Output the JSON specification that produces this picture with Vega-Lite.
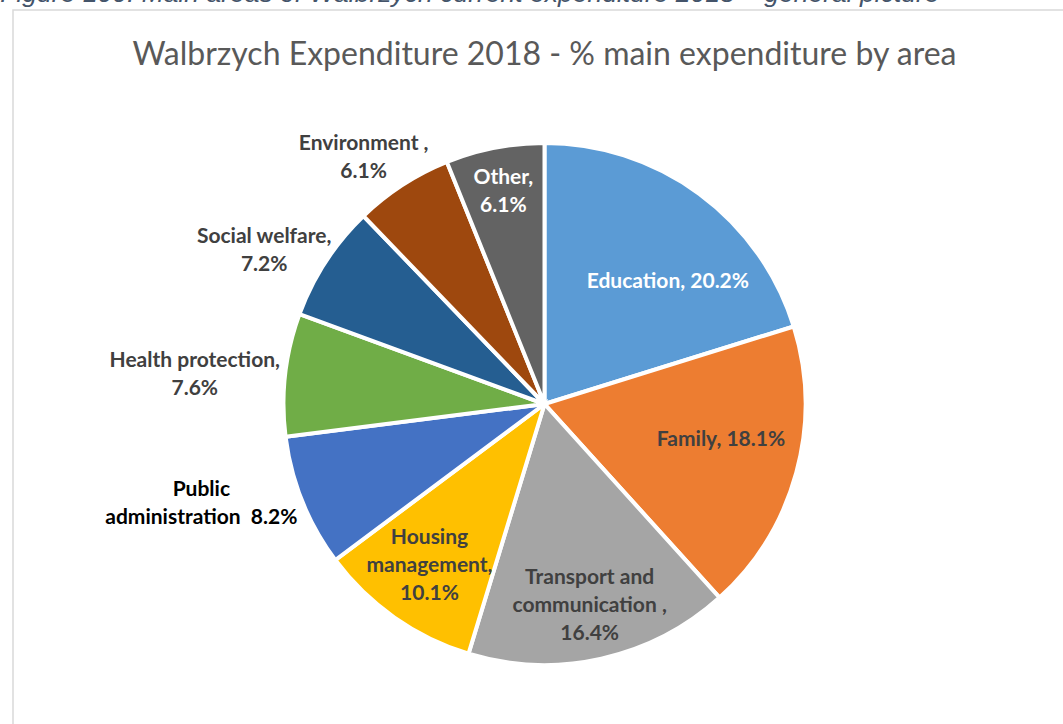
{
  "$schema": "https://vega.github.io/schema/vega-lite/v6.json",
  "padding": {"top": -19, "left": 0, "right": 0, "bottom": 0},
  "background": "white",
  "title": {
    "text": "Figure 100: Main areas of Walbrzych current expenditure 2018 – general picture",
    "anchor": "start",
    "font": "Liberation Sans",
    "fontStyle": "italic",
    "fontWeight": "normal",
    "fontSize": 26.5,
    "color": "#44546A",
    "baseline": "alphabetic",
    "offset": -33,
    "dx": -12
  },
  "data": {
    "values": [
      {"category": "Education", "value": 20.2, "order": 1, "label": "Education, 20.2%"},
      {"category": "Family", "value": 18.1, "order": 2, "label": "Family, 18.1%"},
      {"category": "Transport and communication", "value": 16.4, "order": 3, "label": "Transport and\ncommunication ,\n16.4%"},
      {"category": "Housing management", "value": 10.1, "order": 4, "label": "Housing\nmanagement,\n10.1%"},
      {"category": "Public administration", "value": 8.2, "order": 5, "label": "Public\nadministration \u00a08.2%"},
      {"category": "Health protection", "value": 7.6, "order": 6, "label": "Health protection,\n7.6%"},
      {"category": "Social welfare", "value": 7.2, "order": 7, "label": "Social welfare,\n7.2%"},
      {"category": "Environment", "value": 6.1, "order": 8, "label": "Environment ,\n6.1%"},
      {"category": "Other", "value": 6.1, "order": 9, "label": "Other,\n6.1%"}
    ]
  },
  "vconcat": [
    {
      "width": 1063,
      "height": 788,
      "view": {"stroke": "#d9d9d9", "strokeWidth": 1.5, "fill": "white"},
      "title": {
        "text": "Walbrzych Expenditure 2018 - % main expenditure by area",
        "anchor": "middle",
        "font": "Lato",
        "fontWeight": "normal",
        "fontSize": 32,
        "color": "#595959",
        "baseline": "alphabetic",
        "offset": -100
      },
      "encoding": {
        "theta": {"field": "value", "type": "quantitative", "stack": true},
        "order": {"field": "order", "type": "quantitative"}
      },
      "layer": [
        {
          "mark": {"type": "arc", "outerRadius": 261, "stroke": "white", "strokeWidth": 4},
          "encoding": {
            "color": {
              "field": "category",
              "type": "nominal",
              "legend": null,
              "scale": {
                "domain": ["Education", "Family", "Transport and communication", "Housing management", "Public administration", "Health protection", "Social welfare", "Environment", "Other"],
                "range": ["#5B9BD5", "#ED7D31", "#A5A5A5", "#FFC000", "#4472C4", "#70AD47", "#255E91", "#9E480E", "#636363"]
              }
            }
          }
        },
        {
          "mark": {"type": "text", "radius": 171, "dx": 22, "dy": 16, "font": "Lato", "fontWeight": "bold", "fontSize": 21, "lineHeight": 28, "lineBreak": "\n", "color": "white"},
          "encoding": {"text": {"condition": {"test": "datum.category == 'Education'", "field": "label"}, "value": ""}}
        },
        {
          "mark": {"type": "text", "radius": 183, "dy": -12, "font": "Lato", "fontWeight": "bold", "fontSize": 21, "lineHeight": 28, "lineBreak": "\n", "color": "#404040"},
          "encoding": {"text": {"condition": {"test": "datum.category == 'Family'", "field": "label"}, "value": ""}}
        },
        {
          "mark": {"type": "text", "radius": 207, "dy": -28, "font": "Lato", "fontWeight": "bold", "fontSize": 21, "lineHeight": 28, "lineBreak": "\n", "color": "#404040"},
          "encoding": {"text": {"condition": {"test": "datum.category == 'Transport and communication'", "field": "label"}, "value": ""}}
        },
        {
          "mark": {"type": "text", "radius": 200, "dy": -30, "font": "Lato", "fontWeight": "bold", "fontSize": 21, "lineHeight": 28, "lineBreak": "\n", "color": "#404040"},
          "encoding": {"text": {"condition": {"test": "datum.category == 'Housing management'", "field": "label"}, "value": ""}}
        },
        {
          "mark": {"type": "text", "radius": 216, "dy": -14, "font": "Lato", "fontWeight": "bold", "fontSize": 21, "lineHeight": 28, "lineBreak": "\n", "color": "white"},
          "encoding": {"text": {"condition": {"test": "datum.category == 'Other'", "field": "label"}, "value": ""}}
        },
        {
          "mark": {"type": "text", "radius": 356, "dx": -13, "dy": -47, "font": "Lato", "fontWeight": "bold", "fontSize": 21, "lineHeight": 28, "lineBreak": "\n", "color": "#000000"},
          "encoding": {"text": {"condition": {"test": "datum.category == 'Public administration'", "field": "label"}, "value": ""}}
        },
        {
          "mark": {"type": "text", "radius": 352, "dy": -3, "font": "Lato", "fontWeight": "bold", "fontSize": 21, "lineHeight": 28, "lineBreak": "\n", "color": "#404040"},
          "encoding": {"text": {"condition": {"test": "datum.category == 'Health protection'", "field": "label"}, "value": ""}}
        },
        {
          "mark": {"type": "text", "radius": 318, "dx": -14, "dy": 7, "font": "Lato", "fontWeight": "bold", "fontSize": 21, "lineHeight": 28, "lineBreak": "\n", "color": "#404040"},
          "encoding": {"text": {"condition": {"test": "datum.category == 'Social welfare'", "field": "label"}, "value": ""}}
        },
        {
          "mark": {"type": "text", "radius": 305, "dx": -15, "dy": -4, "font": "Lato", "fontWeight": "bold", "fontSize": 21, "lineHeight": 28, "lineBreak": "\n", "color": "#404040"},
          "encoding": {"text": {"condition": {"test": "datum.category == 'Environment'", "field": "label"}, "value": ""}}
        }
      ]
    }
  ],
  "config": {
    "view": {"stroke": "#d9d9d9", "strokeWidth": 1.5}
  }
}
